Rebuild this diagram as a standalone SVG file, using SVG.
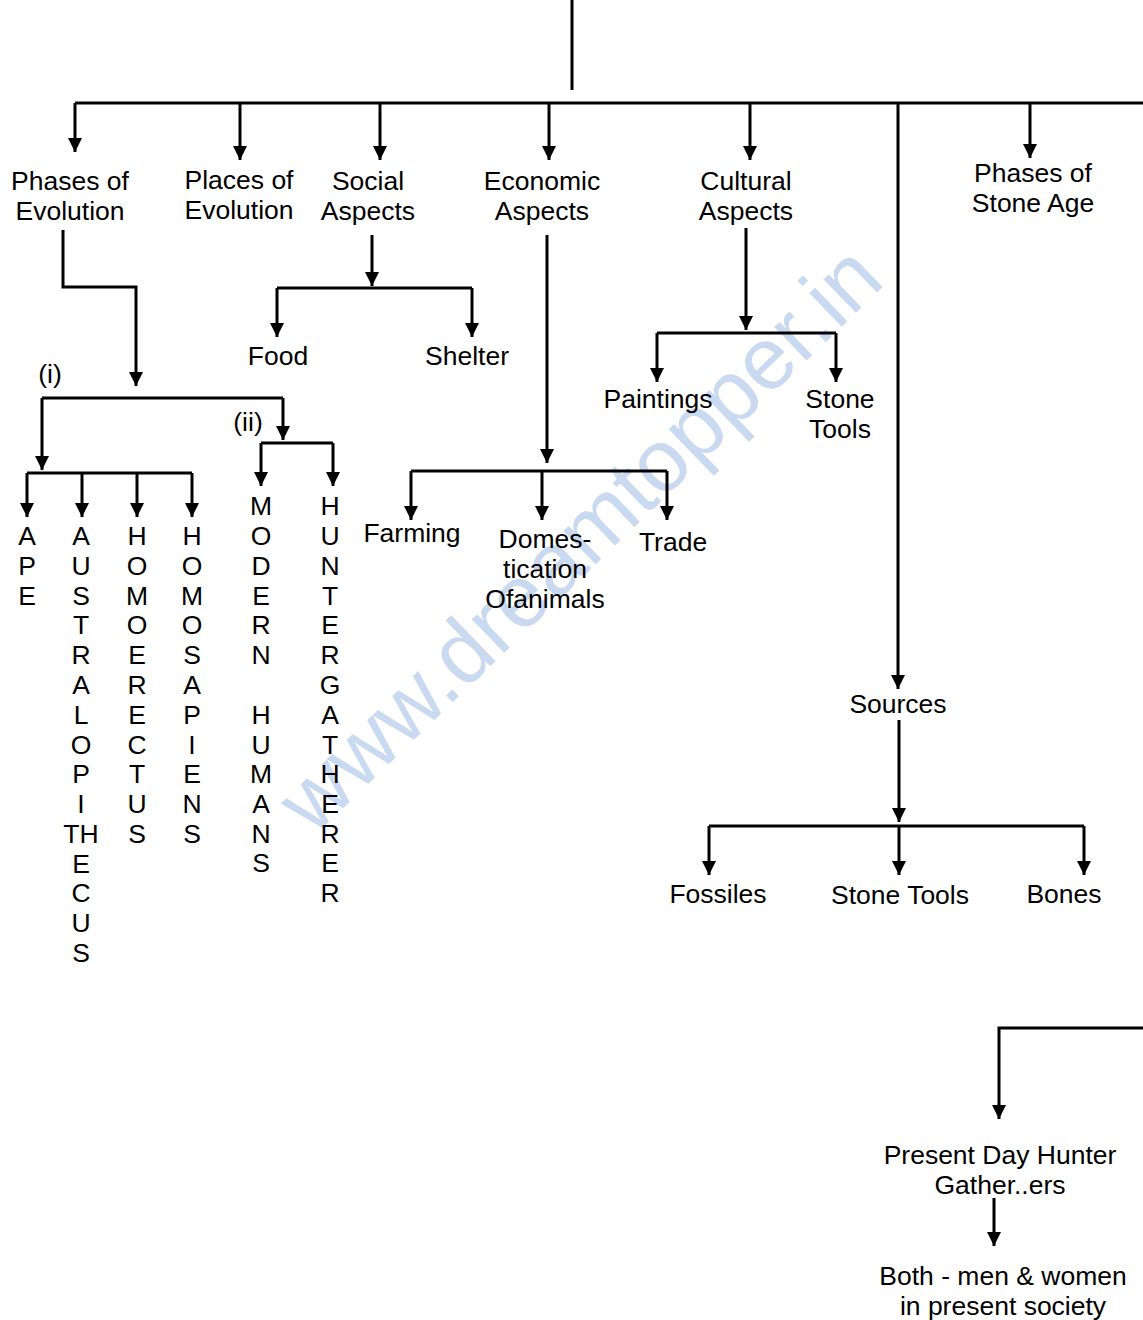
<svg xmlns="http://www.w3.org/2000/svg" width="1143" height="1320" viewBox="0 0 1143 1320">
<defs>
<marker id="a" markerUnits="userSpaceOnUse" markerWidth="14" markerHeight="14" viewBox="0 0 14 14" refX="14" refY="7" orient="auto">
<path d="M0,0 L14,7 L0,14 Z" fill="#000"/>
</marker>
</defs>
<style>
.c path{fill:none;stroke:#000;stroke-width:3}
.c .ar{marker-end:url(#a)}
text{font-family:"Liberation Sans",Arial,sans-serif;font-size:26.5px;fill:#000;text-anchor:middle}
.wm{font-size:88px;fill:#b8cdec;opacity:0.75;text-anchor:middle}
</style>
<rect width="1143" height="1320" fill="#fff"/>
<text class="wm" x="600" y="560" transform="rotate(-44 600 560)">www.dreamtopper.in</text>
<g class="c" id="connectors">
<path d="M572,0 V90"/>
<path d="M75,103 H1143"/>
<path class="ar" d="M75,103 V152"/>
<path class="ar" d="M240,103 V160"/>
<path class="ar" d="M380,103 V160"/>
<path class="ar" d="M549,103 V160"/>
<path class="ar" d="M750,103 V160"/>
<path class="ar" d="M1030,103 V158"/>
<path class="ar" d="M898,103 V689"/>
<path class="ar" d="M63,230 V287 H136 V386"/>
<path d="M42,398 H283"/>
<path class="ar" d="M42,398 V470"/>
<path class="ar" d="M283,398 V440"/>
<path d="M27,473 H192"/>
<path class="ar" d="M27,473 V517"/>
<path class="ar" d="M82,473 V517"/>
<path class="ar" d="M137,473 V517"/>
<path class="ar" d="M192,473 V517"/>
<path d="M261,443 H333"/>
<path class="ar" d="M261,443 V486"/>
<path class="ar" d="M333,443 V486"/>
<path class="ar" d="M372,235 V286"/>
<path d="M277,288 H472"/>
<path class="ar" d="M277,288 V337"/>
<path class="ar" d="M472,288 V337"/>
<path class="ar" d="M547,235 V463"/>
<path d="M411,471 H667"/>
<path class="ar" d="M411,471 V520"/>
<path class="ar" d="M542,471 V520"/>
<path class="ar" d="M667,471 V520"/>
<path class="ar" d="M746,228 V330"/>
<path d="M657,333 H836"/>
<path class="ar" d="M657,333 V382"/>
<path class="ar" d="M836,333 V382"/>
<path class="ar" d="M899,720 V822"/>
<path d="M709,826 H1084"/>
<path class="ar" d="M709,826 V875"/>
<path class="ar" d="M899,826 V875"/>
<path class="ar" d="M1084,826 V875"/>
<path class="ar" d="M1143,1028 H999 V1119"/>
<path class="ar" d="M994,1198 V1246"/>
</g>
<g id="n-phases-evolution"><text x="70" y="190">Phases of</text><text x="70" y="220">Evolution</text></g>
<g id="n-places-evolution"><text x="239" y="189">Places of</text><text x="239" y="219">Evolution</text></g>
<g id="n-social"><text x="368" y="190">Social</text><text x="368" y="220">Aspects</text></g>
<g id="n-economic"><text x="542" y="190">Economic</text><text x="542" y="220">Aspects</text></g>
<g id="n-cultural"><text x="746" y="190">Cultural</text><text x="746" y="220">Aspects</text></g>
<g id="n-phases-stone"><text x="1033" y="182">Phases of</text><text x="1033" y="212">Stone Age</text></g>
<g id="n-i"><text x="50" y="383">(i)</text></g>
<g id="n-ii"><text x="248" y="431">(ii)</text></g>
<g id="n-ape"><text x="27" y="545">A</text><text x="27" y="575">P</text><text x="27" y="605">E</text></g>
<g id="n-australopithecus"><text x="81" y="545">A</text><text x="81" y="575">U</text><text x="81" y="605">S</text><text x="81" y="634">T</text><text x="81" y="664">R</text><text x="81" y="694">A</text><text x="81" y="724">L</text><text x="81" y="754">O</text><text x="81" y="783">P</text><text x="81" y="813">I</text><text x="81" y="843">TH</text><text x="81" y="873">E</text><text x="81" y="902">C</text><text x="81" y="932">U</text><text x="81" y="962">S</text></g>
<g id="n-homoerectus"><text x="137" y="545">H</text><text x="137" y="575">O</text><text x="137" y="605">M</text><text x="137" y="634">O</text><text x="137" y="664">E</text><text x="137" y="694">R</text><text x="137" y="724">E</text><text x="137" y="754">C</text><text x="137" y="783">T</text><text x="137" y="813">U</text><text x="137" y="843">S</text></g>
<g id="n-homosapiens"><text x="192" y="545">H</text><text x="192" y="575">O</text><text x="192" y="605">M</text><text x="192" y="634">O</text><text x="192" y="664">S</text><text x="192" y="694">A</text><text x="192" y="724">P</text><text x="192" y="754">I</text><text x="192" y="783">E</text><text x="192" y="813">N</text><text x="192" y="843">S</text></g>
<g id="n-modern-humans"><text x="261" y="515">M</text><text x="261" y="545">O</text><text x="261" y="575">D</text><text x="261" y="605">E</text><text x="261" y="634">R</text><text x="261" y="664">N</text><text x="261" y="724">H</text><text x="261" y="754">U</text><text x="261" y="783">M</text><text x="261" y="813">A</text><text x="261" y="843">N</text><text x="261" y="872">S</text></g>
<g id="n-huntergatherer"><text x="330" y="515">H</text><text x="330" y="545">U</text><text x="330" y="575">N</text><text x="330" y="605">T</text><text x="330" y="634">E</text><text x="330" y="664">R</text><text x="330" y="694">G</text><text x="330" y="724">A</text><text x="330" y="754">T</text><text x="330" y="783">H</text><text x="330" y="813">E</text><text x="330" y="843">R</text><text x="330" y="872">E</text><text x="330" y="902">R</text></g>
<g id="n-food"><text x="278" y="365">Food</text></g>
<g id="n-shelter"><text x="467" y="365">Shelter</text></g>
<g id="n-farming"><text x="412" y="542">Farming</text></g>
<g id="n-domestication"><text x="545" y="548">Domes-</text><text x="545" y="578">tication</text><text x="545" y="608">Ofanimals</text></g>
<g id="n-trade"><text x="673" y="551">Trade</text></g>
<g id="n-paintings"><text x="658" y="408">Paintings</text></g>
<g id="n-stonetools1"><text x="840" y="408">Stone</text><text x="840" y="438">Tools</text></g>
<g id="n-sources"><text x="898" y="713">Sources</text></g>
<g id="n-fossiles"><text x="718" y="903">Fossiles</text></g>
<g id="n-stonetools2"><text x="900" y="904">Stone Tools</text></g>
<g id="n-bones"><text x="1064" y="903">Bones</text></g>
<g id="n-present"><text x="1000" y="1164">Present Day Hunter</text><text x="1000" y="1194">Gather..ers</text></g>
<g id="n-both"><text x="1003" y="1285">Both - men &amp; women</text><text x="1003" y="1315">in present society</text></g>
</svg>
